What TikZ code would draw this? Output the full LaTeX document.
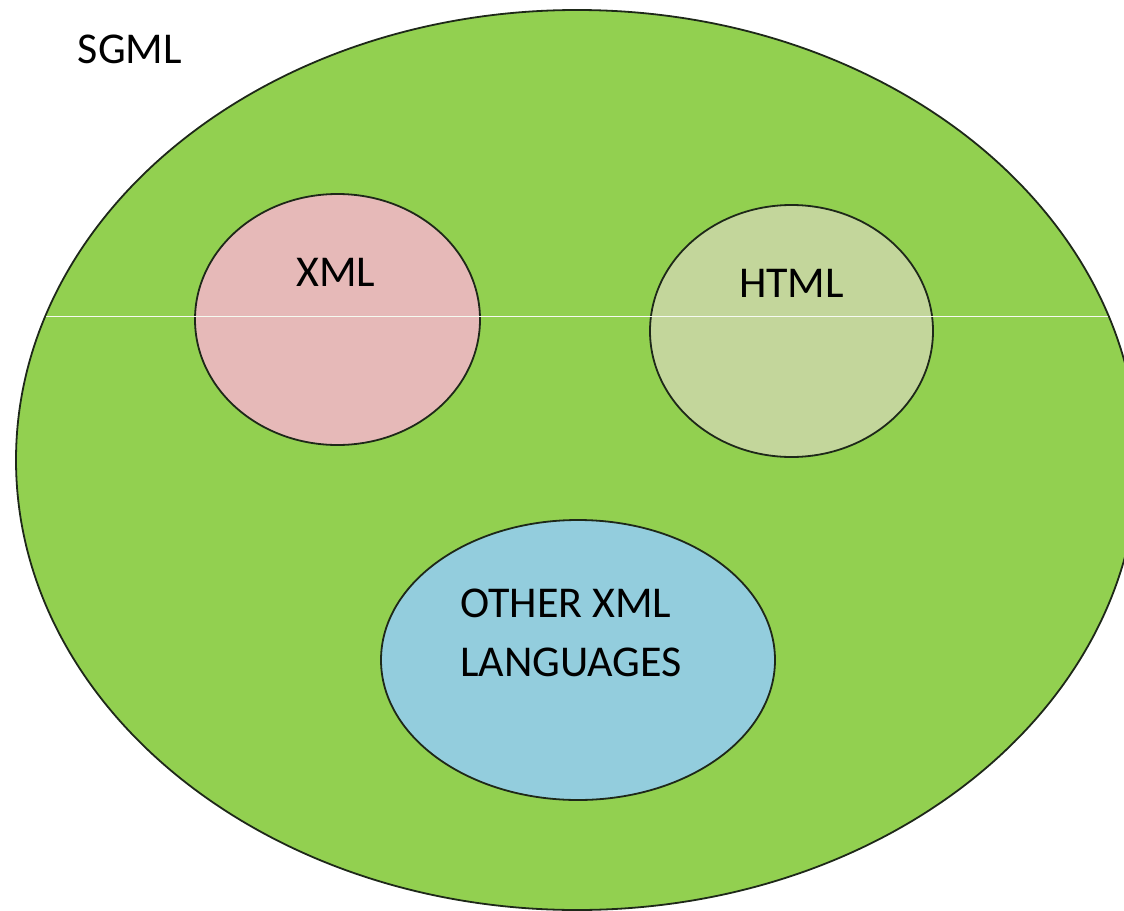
\documentclass[tikz,border=0pt]{standalone}
\usepackage{fontspec}
\setmainfont{Carlito}
\usetikzlibrary{shapes.geometric}
\definecolor{sgmlgreen}{RGB}{146,208,80}
\definecolor{xmlpink}{RGB}{230,185,184}
\definecolor{htmlgreen}{RGB}{195,214,155}
\definecolor{otherblue}{RGB}{147,205,221}
\definecolor{rim}{RGB}{30,40,25}

\begin{document}
\begin{tikzpicture}[x=1pt,y=-1pt,
  bubble/.style={ellipse, draw=rim, line width=1.8pt, inner sep=0pt, outer sep=0pt},
  word/.style={font=\fontsize{44}{59}\selectfont, inner sep=0pt, anchor=base}]
\useasboundingbox (0,0) rectangle (1124,910);
\clip (0,0) rectangle (1124,910);

\node [bubble, fill=sgmlgreen, minimum width=1122pt, minimum height=900pt] (sgml) at (577,460) {};
\node [bubble, fill=xmlpink, minimum width=285pt, minimum height=251pt] (xml) at (337.5,319.5) {};
\node [bubble, fill=htmlgreen, minimum width=283pt, minimum height=252pt] (html) at (791.5,331) {};
\node [bubble, fill=otherblue, minimum width=394pt, minimum height=280pt] (other) at (578,660) {};

% the thin light streak across the big ellipse
\begin{scope}
\clip (577,460) ellipse [x radius=560, y radius=449];
\draw [white!92!sgmlgreen, line width=1pt] (0,316) -- (1124,316);
\end{scope}

\node [word] (sgmltext) at (130,63) {SGML};
\node [word] (xmltext) at (336,286) {XML};
\node [word] (htmltext) at (791.5,297) {HTML};
\node [word, anchor=base west, align=left] (othertext) at (460,676) {OTHER XML\\LANGUAGES};

\end{tikzpicture}
\end{document}
